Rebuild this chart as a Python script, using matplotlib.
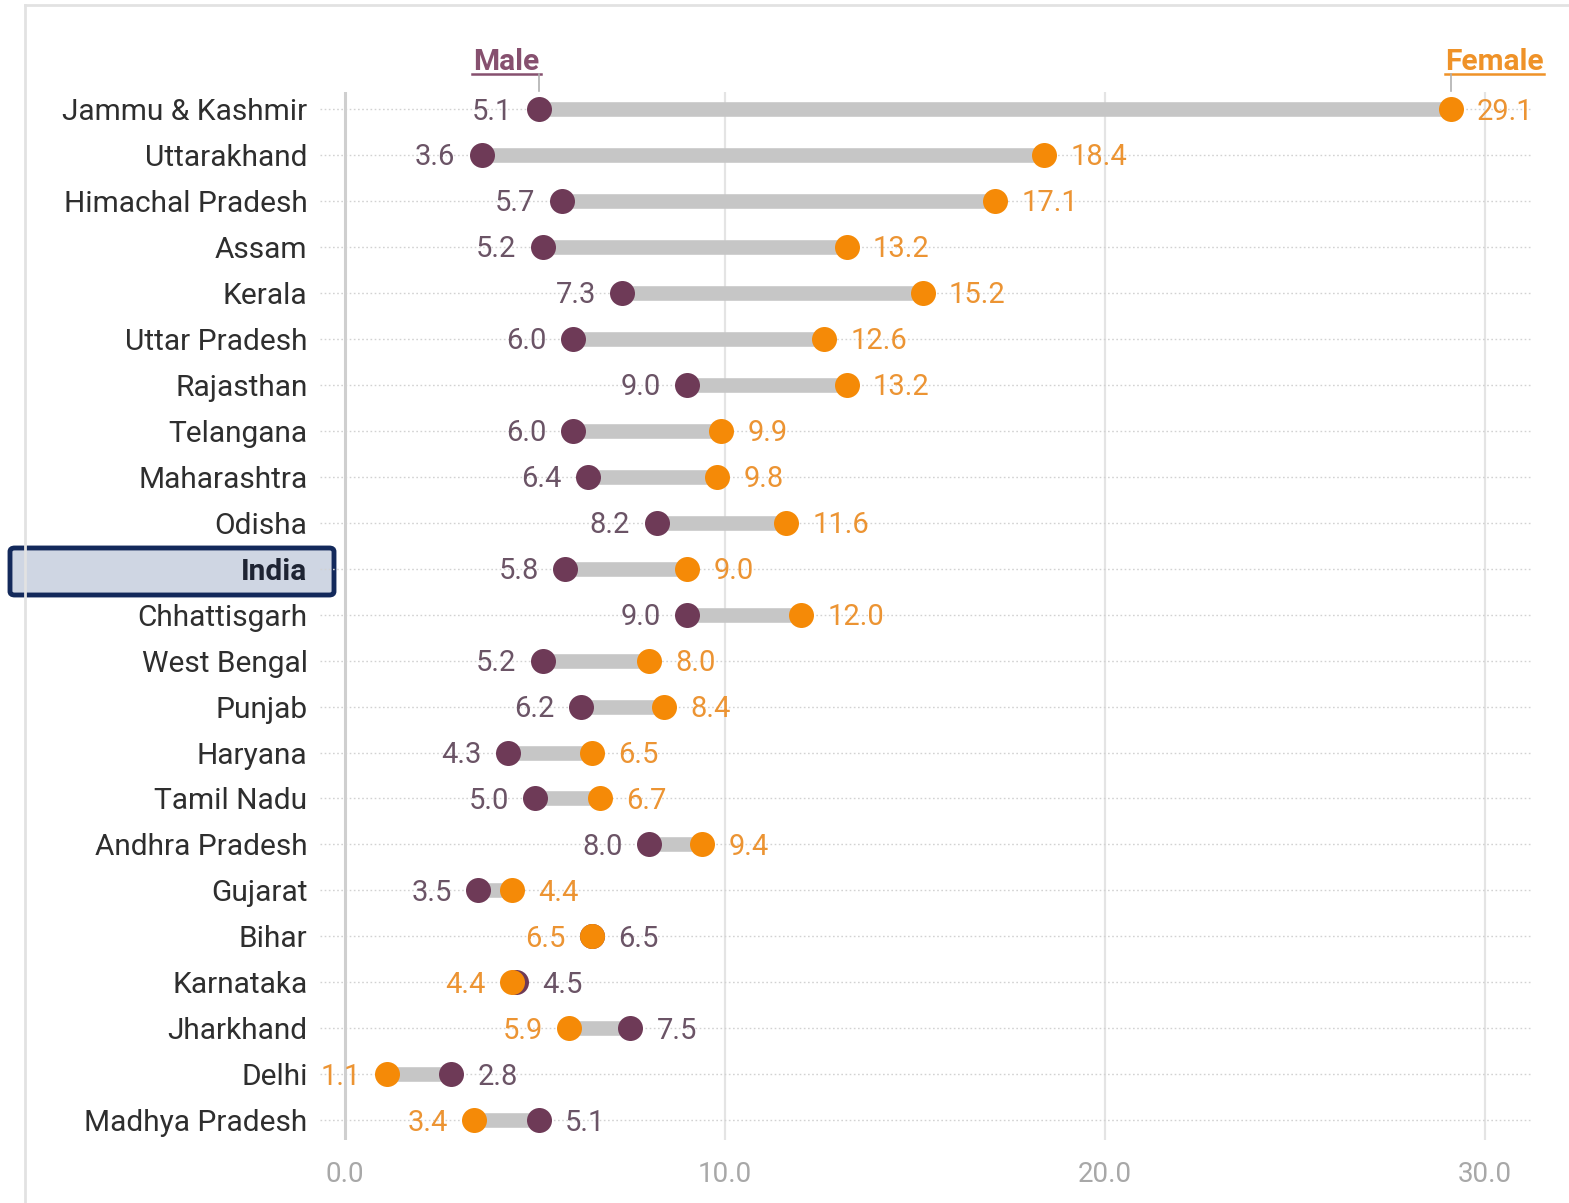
import matplotlib
matplotlib.use("Agg")
import matplotlib.pyplot as plt
from matplotlib.patches import FancyBboxPatch
from matplotlib.lines import Line2D

plt.rcParams['font.family'] = ['Roboto', 'DejaVu Sans']

states = ["Jammu & Kashmir", "Uttarakhand", "Himachal Pradesh", "Assam", "Kerala",
          "Uttar Pradesh", "Rajasthan", "Telangana", "Maharashtra", "Odisha", "India",
          "Chhattisgarh", "West Bengal", "Punjab", "Haryana", "Tamil Nadu",
          "Andhra Pradesh", "Gujarat", "Bihar", "Karnataka", "Jharkhand", "Delhi",
          "Madhya Pradesh"]
male = [5.1, 3.6, 5.7, 5.2, 7.3, 6.0, 9.0, 6.0, 6.4, 8.2, 5.8, 9.0, 5.2, 6.2, 4.3,
        5.0, 8.0, 3.5, 6.5, 4.5, 7.5, 2.8, 5.1]
female = [29.1, 18.4, 17.1, 13.2, 15.2, 12.6, 13.2, 9.9, 9.8, 11.6, 9.0, 12.0, 8.0,
          8.4, 6.5, 6.7, 9.4, 4.4, 6.5, 4.4, 5.9, 1.1, 3.4]
xticks = [0, 10, 20, 30]
xtick_labels = ["0.0", "10.0", "20.0", "30.0"]

MALE_DOT = "#6e3a57"
MALE_TXT = "#6b5466"
FEMALE_DOT = "#f58a07"
FEMALE_TXT = "#ec9433"
BAR = "#c6c6c6"

W, H = 1569, 1203
fig = plt.figure(figsize=(W / 100, H / 100), dpi=100)
fig.patch.set_facecolor("white")

# axes placed in pixel units
ax_l, ax_r, ax_t, ax_b = 320, 1532, 92, 1140
ax = fig.add_axes([ax_l / W, 1 - ax_b / H, (ax_r - ax_l) / W, (ax_b - ax_t) / H])
ax.set_facecolor("none")
ax.set_xlim(-0.66, 31.24)
ax.set_ylim(22.43, -0.37)
for s in ax.spines.values():
    s.set_visible(False)

n = len(states)
ys = list(range(n))

# vertical grid
for xt in xticks:
    if xt == 0:
        ax.axvline(xt, color="#cfcfcf", lw=2.2, zorder=1)
    else:
        ax.axvline(xt, color="#e4e4e4", lw=1.6, zorder=0)

# dotted row guides
for y in ys:
    ax.plot([-0.66, 31.24], [y, y], color="#d2d2d2", lw=1.0, ls=(0, (1.2, 1.8)), zorder=0.5)

# bars and dots
for y, m, f in zip(ys, male, female):
    lo, hi = min(m, f), max(m, f)
    ax.plot([lo, hi], [y, y], color=BAR, lw=10.5, solid_capstyle="butt", zorder=2)
ax.plot(male, ys, "o", color=MALE_DOT, ms=18, mew=0, zorder=3)
ax.plot(female, ys, "o", color=FEMALE_DOT, ms=18, mew=0, zorder=4)

# value labels: smaller value on the left, larger on the right
fs = 21
dy = -0.36 * fs
for y, m, f in zip(ys, male, female):
    if f <= m:
        left_v, left_c, right_v, right_c = f, FEMALE_TXT, m, MALE_TXT
    else:
        left_v, left_c, right_v, right_c = m, MALE_TXT, f, FEMALE_TXT
    ax.annotate(f"{left_v:.1f}", (left_v, y), xytext=(-19, dy), textcoords="offset points",
                ha="right", va="baseline", fontsize=fs, color=left_c, zorder=5)
    ax.annotate(f"{right_v:.1f}", (right_v, y), xytext=(19, dy), textcoords="offset points",
                ha="left", va="baseline", fontsize=fs, color=right_c, zorder=5)

# axes ticks
ax.set_xticks(xticks)
ax.set_xticklabels(xtick_labels, fontsize=20, color="#a8a8a8")
ax.tick_params(axis="x", length=0, pad=15)
ax.set_yticks(ys)
ax.set_yticklabels(states, fontsize=21.5, color="#2e2e2e")
ax.tick_params(axis="y", length=0, pad=9)
for lbl in ax.get_yticklabels():
    if lbl.get_text() == "India":
        lbl.set_fontweight("bold")
        lbl.set_color("#1e2433")
        lbl.set_zorder(10)

# highlight box behind "India"
box = FancyBboxPatch((10 / W, 1 - 595 / H), 324 / W, 47 / H,
                     boxstyle="round,pad=0,rounding_size=0.003",
                     transform=fig.transFigure, facecolor="#cfd6e3",
                     edgecolor="#13295b", lw=3.5, zorder=-1)
fig.patches.append(box)

# series headers with underline and pointer
def header(text, xc, ul0, ul1, xv, color):
    ax.text(xc, -1.02, text, ha="center", va="center", fontsize=21.5,
            fontweight="bold", color=color, clip_on=False)
    ax.add_line(Line2D([ul0, ul1], [-0.76, -0.76], color=color, lw=1.8, clip_on=False))
    ax.add_line(Line2D([xv, xv], [-0.76, -0.4], color="#b0b0b0", lw=1.2, clip_on=False))

header("Male", 4.24, 3.35, 5.15, male[0], "#86506f")
header("Female", 30.25, 28.95, 31.55, female[0], "#ef9228")

# card border
fig.add_artist(Line2D([25 / W, 25 / W], [0, 1 - 5 / H], transform=fig.transFigure,
                      color="#e2e2e2", lw=2))
fig.add_artist(Line2D([25 / W, 1], [1 - 5 / H, 1 - 5 / H], transform=fig.transFigure,
                      color="#e2e2e2", lw=2))

fig.savefig("out.png", dpi=100)
